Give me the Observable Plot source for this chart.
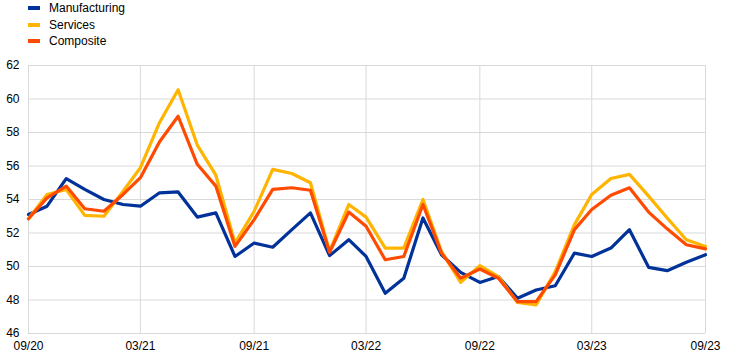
<!DOCTYPE html>
<html><head><meta charset="utf-8">
<script src="https://cdn.jsdelivr.net/npm/d3@7"></script>
<script src="https://cdn.jsdelivr.net/npm/@observablehq/plot@0.6"></script>
<style>
body{margin:0;background:#fff;font-family:"Liberation Sans",Arial,sans-serif;}
#legend{height:52px;position:relative;}
.item{position:absolute;left:28px;font-size:12px;color:#000;display:flex;align-items:center;}
.sw{width:12px;height:4px;margin-right:9px;}
</style></head>
<body>
<div id="legend"></div>
<div id="chart"></div>
<script>
const months = ["2020-09","2020-10","2020-11","2020-12","2021-01","2021-02","2021-03","2021-04","2021-05","2021-06","2021-07","2021-08",
"2021-09","2021-10","2021-11","2021-12","2022-01","2022-02","2022-03","2022-04","2022-05","2022-06","2022-07","2022-08",
"2022-09","2022-10","2022-11","2022-12","2023-01","2023-02","2023-03","2023-04","2023-05","2023-06","2023-07","2023-08","2023-09"];
const manufacturing = [53.1,53.6,55.25,54.6,54.0,53.7,53.6,54.4,54.45,52.95,53.2,50.6,
51.4,51.15,52.2,53.2,50.65,51.6,50.6,48.4,49.3,52.9,50.7,49.65,
49.05,49.4,48.1,48.6,48.85,50.8,50.6,51.1,52.2,49.95,49.75,50.25,50.7];
const services = [52.85,54.3,54.6,53.05,53.0,54.5,55.9,58.6,60.55,57.25,55.45,51.4,
53.3,55.8,55.55,55.0,50.9,53.7,52.95,51.1,51.1,54.0,50.9,49.05,
50.05,49.4,47.85,47.7,49.7,52.5,54.3,55.25,55.5,54.2,52.9,51.6,51.2];
const composite = [52.85,54.1,54.8,53.45,53.3,54.3,55.3,57.45,58.97,56.1,54.8,51.2,
52.8,54.6,54.7,54.55,50.85,53.25,52.4,50.4,50.6,53.7,50.8,49.3,
49.85,49.3,47.9,47.9,49.5,52.2,53.4,54.25,54.7,53.25,52.25,51.3,51.05];
const seriesNames = ["Manufacturing","Services","Composite"];
const seriesColors = ["#003299","#FFB400","#FF4B00"];
const yTicks = [46,48,50,52,54,56,58,60,62];
const xTickLabels = ["2020-09","2021-03","2021-09","2022-03","2022-09","2023-03","2023-09"];

const parse = d3.utcParse("%Y-%m");
const seriesValues = [manufacturing, services, composite];
const data = [];
seriesNames.forEach((name, i) => {
  seriesValues[i].forEach((v, j) => data.push({series: name, date: parse(months[j]), value: v}));
});

const legend = document.getElementById("legend");
seriesNames.forEach((n, i) => {
  const d = document.createElement("div");
  d.className = "item";
  d.style.top = (1 + i * 16.5) + "px";
  d.innerHTML = `<span class="sw" style="background:${seriesColors[i]}"></span><span>${n}</span>`;
  legend.appendChild(d);
});

const xt = xTickLabels.map(parse);
const plot = Plot.plot({
  width: 742,
  height: 307,
  marginLeft: 28,
  marginRight: 37,
  marginTop: 13,
  marginBottom: 26,
  style: {fontFamily: "'Liberation Sans', Arial, sans-serif", fontSize: "12px", color: "#000", background: "#fff"},
  x: {type: "utc", domain: [parse("2020-09"), parse("2023-09")], ticks: xt, tickFormat: d3.utcFormat("%m/%y"), tickSize: 0, tickPadding: 8, label: null},
  y: {domain: [46, 62], ticks: yTicks, tickSize: 0, tickPadding: 9, label: null},
  color: {domain: seriesNames, range: seriesColors},
  marks: [
    Plot.gridY(yTicks, {stroke: "#d9d9d9", strokeOpacity: 1, strokeWidth: 1}),
    Plot.gridX(xt, {stroke: "#d9d9d9", strokeOpacity: 1, strokeWidth: 1}),
    Plot.lineY(data, {x: "date", y: "value", stroke: "series", strokeWidth: 3.2, z: "series"})
  ]
});
document.getElementById("chart").appendChild(plot);
</script>
</body></html>
